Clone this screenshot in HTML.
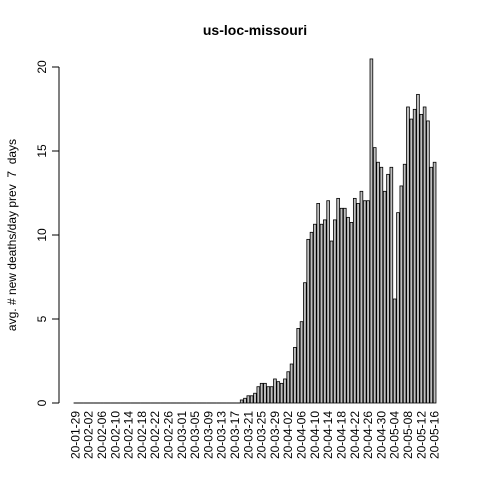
<!DOCTYPE html>
<html><head><meta charset="utf-8"><style>
html,body{margin:0;padding:0;background:#fff}
svg text{font-family:"Liberation Sans",sans-serif;fill:#000}
</style></head><body>
<svg id="chart" width="480" height="480" viewBox="0 0 480 480" xmlns="http://www.w3.org/2000/svg">
<rect width="480" height="480" fill="#fff"/>
<text x="255" y="35" text-anchor="middle" font-size="14" font-weight="bold">us-loc-missouri</text>
<text transform="translate(16,235) rotate(-90)" text-anchor="middle" font-size="12" style="white-space:pre">avg. # new deaths/day prev  7  days</text>
<g id="yaxis"></g>
<g id="bars"></g>
<g id="xlabels"></g>
</svg>
<script>
const startDate = "2020-01-29";
const zeroDays = 50;
const values = [0.18,0.28,0.43,0.43,0.58,0.97,1.17,1.17,0.97,0.97,1.43,1.27,1.17,1.43,1.86,2.32,3.31,4.44,4.84,7.16,9.74,10.16,10.64,11.88,10.64,10.9,12.04,9.64,10.9,12.18,11.59,11.59,11.05,10.75,12.18,11.88,12.6,12.04,12.04,20.48,15.2,14.33,14.03,12.6,13.61,14.03,6.19,11.33,12.92,14.21,17.62,16.9,17.48,18.37,17.18,17.62,16.79,14.03,14.33];
const yTicks = [0,5,10,15,20];

const NS = "http://www.w3.org/2000/svg";
const series = new Array(zeroDays).fill(0).concat(values);
const n = series.length;
const x0 = 74, step = 3.326, bw = step / 1.2;
const yScale = v => 403 - v * 16.8;
const xLeft = i => x0 + i * step;

const dates = [];
const d0 = new Date(startDate + "T00:00:00Z");
for (let i = 0; i < n; i++) {
  const d = new Date(d0.getTime() + i * 86400000);
  dates.push(d.toISOString().slice(2, 10));
}

const bars = document.getElementById("bars");
series.forEach((v, i) => {
  const y = yScale(v);
  let el;
  if (v <= 0) {
    el = document.createElementNS(NS, "line");
    el.setAttribute("x1", xLeft(i) - 0.4);
    el.setAttribute("x2", xLeft(i) + bw + 0.4);
    el.setAttribute("y1", y);
    el.setAttribute("y2", y);
    el.setAttribute("stroke", "#000");
    el.setAttribute("stroke-width", "1");
  } else {
    el = document.createElementNS(NS, "rect");
    el.setAttribute("x", xLeft(i));
    el.setAttribute("y", y);
    el.setAttribute("width", bw);
    el.setAttribute("height", 403 - y);
    el.setAttribute("fill", "#bebebe");
    el.setAttribute("stroke", "#000");
    el.setAttribute("stroke-width", "0.8");
  }
  
  
  bars.appendChild(el);
});

const ya = document.getElementById("yaxis");
const axLine = document.createElementNS(NS, "line");
axLine.setAttribute("x1", 59); axLine.setAttribute("x2", 59);
axLine.setAttribute("y1", yScale(yTicks[0])); axLine.setAttribute("y2", yScale(yTicks[yTicks.length - 1]));
axLine.setAttribute("stroke", "#000");


ya.appendChild(axLine);
yTicks.forEach(t => {
  const y = yScale(t);
  const l = document.createElementNS(NS, "line");
  l.setAttribute("x1", 52); l.setAttribute("x2", 59);
  l.setAttribute("y1", y); l.setAttribute("y2", y);
  l.setAttribute("stroke", "#000");
  
  
  ya.appendChild(l);
  const tx = document.createElementNS(NS, "text");
  tx.setAttribute("transform", "translate(46," + y + ") rotate(-90)");
  tx.setAttribute("text-anchor", "middle");
  tx.setAttribute("font-size", "12");
  tx.textContent = t;
  
  
  ya.appendChild(tx);
});

const xl = document.getElementById("xlabels");
for (let i = 0; i < n; i += 4) {
  const cx = xLeft(i) + bw / 2 + 4;
  const tx = document.createElementNS(NS, "text");
  tx.setAttribute("transform", "translate(" + cx + ",411) rotate(-90)");
  tx.setAttribute("text-anchor", "end");
  tx.setAttribute("font-size", "12");
  tx.textContent = dates[i];
  
  
  xl.appendChild(tx);
}
</script>
</body></html>
